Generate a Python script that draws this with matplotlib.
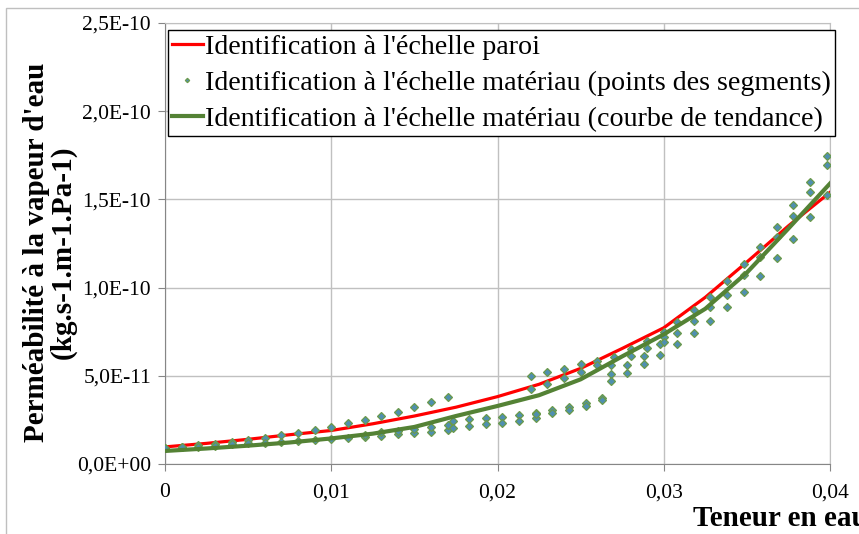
import numpy as np
import matplotlib
matplotlib.use('Agg')
import matplotlib.pyplot as plt
from matplotlib.patches import Rectangle

plt.rcParams['font.family'] = ['Liberation Serif', 'DejaVu Serif']

E = 1e-11

# Identification à l'échelle paroi (red line)
paroi_x = [0.0, 0.0025, 0.005, 0.0075, 0.01, 0.0125, 0.015, 0.0175, 0.02,
           0.0225, 0.025, 0.0275, 0.03, 0.0325, 0.035, 0.0375, 0.04]
paroi_y = [0.97, 1.17, 1.40, 1.66, 1.90, 2.28, 2.72, 3.22, 3.82,
           4.52, 5.42, 6.55, 7.72, 9.45, 11.45, 13.50, 15.40]

# courbe de tendance (green line)
tend_x = paroi_x
tend_y = [0.74, 0.88, 1.04, 1.22, 1.45, 1.72, 2.10, 2.72, 3.29,
          3.90, 4.80, 6.10, 7.35, 8.80, 10.85, 13.35, 15.90]

# points des segments
seg1_x = [0.000, 0.001, 0.002, 0.003, 0.004, 0.005, 0.006, 0.007, 0.008,
          0.009, 0.010, 0.011, 0.012, 0.013, 0.014, 0.015, 0.016, 0.017]
seg1_hi = [0.89, 0.95, 1.08, 1.12, 1.26, 1.36, 1.49, 1.63, 1.77,
           1.91, 2.12, 2.31, 2.49, 2.72, 2.95, 3.21, 3.50, 3.82]
seg1_lo = [0.89, 0.95, 0.98, 1.02, 1.12, 1.17, 1.21, 1.26, 1.32,
           1.36, 1.42, 1.47, 1.51, 1.60, 1.68, 1.77, 1.83, 1.93]
seg2_x = [0.012, 0.013, 0.014, 0.015, 0.016, 0.017]
seg2_y = [1.63, 1.80, 1.87, 2.00, 2.10, 2.21]
seg3_x = [0.0173, 0.0183, 0.0193, 0.0203, 0.0213, 0.0223, 0.0233, 0.0243, 0.0253, 0.0263]
seg3_hi = [2.45, 2.55, 2.62, 2.68, 2.78, 2.91, 3.06, 3.25, 3.48, 3.72]
seg3_lo = [2.06, 2.15, 2.25, 2.31, 2.44, 2.60, 2.87, 3.06, 3.29, 3.63]
seg4_x = [0.022, 0.023, 0.024, 0.025, 0.026, 0.027, 0.028, 0.029, 0.030]
seg4_y = [5.00, 5.20, 5.40, 5.65, 5.86, 6.08, 6.50, 6.99, 7.50]
seg5_x = [0.022, 0.023, 0.024, 0.025, 0.026, 0.028, 0.029, 0.030]
seg5_y = [4.23, 4.54, 4.86, 5.20, 5.60, 6.14, 6.56, 7.22]
seg6_x = [0.0268, 0.0278, 0.0288, 0.0298, 0.0308, 0.0318, 0.0328,
          0.0338, 0.0348, 0.0358, 0.0368, 0.0378, 0.0388, 0.0398]
seg6_hi = [5.60, 5.60, 6.14, 6.79, 8.04, 8.73, 9.48,
           10.37, 11.32, 12.32, 13.45, 14.67, 16.00, 17.46]
seg6_mid = [5.10, 5.14, 5.65, 6.18, 7.41, 8.11, 8.88,
            9.60, 10.71, 11.72, 12.85, 14.08, 15.44, 16.93]
seg7_x = [0.0268, 0.0308, 0.0318, 0.0328, 0.0338, 0.0348,
          0.0358, 0.0368, 0.0378, 0.0388, 0.0398]
seg7_y = [4.72, 6.79, 7.41, 8.12, 8.92, 9.73,
          10.67, 11.68, 12.77, 13.98, 15.25]
extra_x = [0.0223, 0.030]
extra_y = [2.83, 6.93]

yticks = [0, 5e-11, 1e-10, 1.5e-10, 2e-10, 2.5e-10]
ytick_labels = ['0,0E+00', '5,0E-11', '1,0E-10', '1,5E-10', '2,0E-10', '2,5E-10']
xticks = [0, 0.01, 0.02, 0.03, 0.04]
xtick_labels = ['0', '0,01', '0,02', '0,03', '0,04']

W, H = 859, 534
fig = plt.figure(figsize=(W / 100, H / 100), dpi=100)
ax = fig.add_axes([165 / W, 1 - 464 / H, (830 - 165) / W, (464 - 23) / H])

pts_x = (seg1_x + seg1_x + seg2_x + seg3_x + seg3_x + seg4_x + seg5_x
         + seg6_x + seg6_x + seg7_x + extra_x)
pts_y = (seg1_hi + seg1_lo + seg2_y + seg3_hi + seg3_lo + seg4_y + seg5_y
         + seg6_hi + seg6_mid + seg7_y + extra_y)

ax.plot(paroi_x, np.array(paroi_y) * E, color='#ff0000', lw=2.3,
        label="Identification à l'échelle paroi", zorder=3)
ax.plot(pts_x, np.array(pts_y) * E, ls='none', marker='D', ms=4.4,
        mfc='#4f8fb0', mec='#6b9a4b', mew=0.9,
        label="Identification à l'échelle matériau (points des segments)", zorder=4)
ax.plot(tend_x, np.array(tend_y) * E, color='#548235', lw=3.0,
        label="Identification à l'échelle matériau (courbe de tendance)", zorder=5)

ax.set_xlim(0, 0.04)
ax.set_ylim(0, 2.5e-10)
ax.set_xticks(xticks)
ax.set_xticklabels(xtick_labels)
ax.set_yticks(yticks)
ax.set_yticklabels(ytick_labels)
ax.tick_params(axis='both', labelsize=15.5, colors='#868686', length=5,
               labelcolor='black')
ax.tick_params(axis='x', pad=9)
ax.tick_params(axis='y', pad=5)
ax.grid(True, color='#c0c0c0', lw=1.0)
ax.set_axisbelow(True)
for s in ['top', 'right']:
    ax.spines[s].set_color('#c0c0c0')
for s in ['left', 'bottom']:
    ax.spines[s].set_color('#868686')

leg = ax.legend(loc='upper left', bbox_to_anchor=(168 / W, 1 - 30 / H),
                bbox_transform=fig.transFigure, borderaxespad=0,
                fontsize=20.2, fancybox=False, framealpha=1,
                edgecolor='black', handlelength=1.1, handletextpad=0.08,
                borderpad=0.14, labelspacing=0.38, markerscale=0.5)
leg.get_frame().set_linewidth(1.0)

fig.text(50 / W, 1 - 252 / H,
         "Perméabilité à la vapeur d'eau\n(kg.s-1.m-1.Pa-1)",
         rotation=90, ha='center', va='center', multialignment='center',
         fontsize=21, fontweight='bold', linespacing=1.0)
fig.text(693 / W, 1 - 518 / H, 'Teneur en eau', ha='left', va='center',
         fontsize=21, fontweight='bold')

fig.patches.append(Rectangle((6 / W, -0.1), 1.2, 1 - 8 / H + 0.1,
                             transform=fig.transFigure, fill=False,
                             edgecolor='#bfbfbf', lw=1.0))

fig.savefig('out.png', dpi=100)
